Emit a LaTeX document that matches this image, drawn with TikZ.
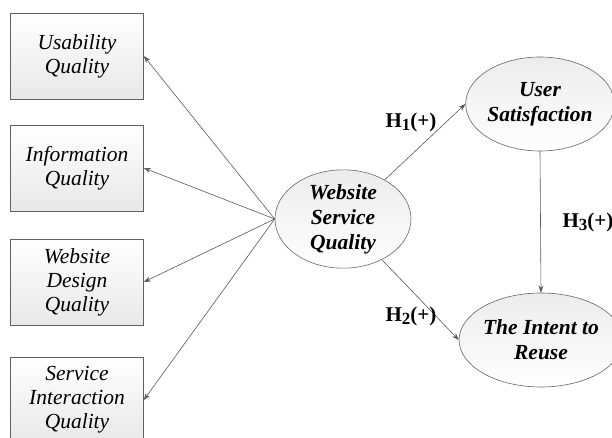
\documentclass[tikz,border=0pt]{standalone}
\usepackage{fontspec}
\setmainfont{Liberation Serif}
\usetikzlibrary{shapes.geometric,arrows.meta}
\begin{document}
\begin{tikzpicture}[x=1pt,y=-1pt,
 box/.style={draw=gray!75!black, line width=0.6pt, top color=white, bottom color=gray!18, minimum width=133pt, minimum height=86pt, inner sep=0pt, align=center, font=\fontsize{21.5}{24}\selectfont\itshape},
 oval/.style={ellipse, draw=gray!80!black, line width=0.6pt, top color=gray!15, bottom color=white, minimum width=136pt, minimum height=94pt, inner sep=0pt, align=center, font=\fontsize{21.5}{25}\selectfont\bfseries\itshape},
 conn/.style={draw=gray!70!black, line width=0.6pt, -{Stealth[length=7pt,width=5pt]}},
 hlab/.style={font=\fontsize{21}{21}\selectfont\bfseries, inner sep=0pt}]
\useasboundingbox (0,0) rectangle (612,438);
\clip (0,0) rectangle (612,438);
\fill[white] (0,0) rectangle (612,438);
\node[box] (uq) at (77,56) {Usability\\Quality};
\node[box] (iq) at (77,168) {Information\\Quality};
\node[box] (dq) at (77,282) {Website\\Design\\Quality};
\node[box] (sq) at (77,400) {Service\\Interaction\\Quality};
\node[oval] (wsq) at (343,219) {Website\\Service\\Quality};
\node[oval] (us) at (540,104) {User\\Satisfaction};
\node[oval] (itr) at (541,340) {The Intent to\\Reuse};
\draw[conn] (wsq.west) -- (uq.east);
\draw[conn] (wsq.west) -- (iq.east);
\draw[conn] (wsq.west) -- (dq.east);
\draw[conn] (wsq.west) -- (sq.east);
\draw[conn] (wsq) -- (us.west);
\draw[conn] (wsq) -- (itr.west);
\draw[conn] (us.south) -- (itr.north);
\node[hlab] (h1) at (411,122) {H\raisebox{-0.35ex}{\fontsize{17}{17}\selectfont 1}(+)};
\node[hlab] (h2) at (411,316) {H\raisebox{-0.35ex}{\fontsize{17}{17}\selectfont 2}(+)};
\node[hlab] (h3) at (588,222) {H\raisebox{-0.35ex}{\fontsize{17}{17}\selectfont 3}(+)};
\end{tikzpicture}
\end{document}
